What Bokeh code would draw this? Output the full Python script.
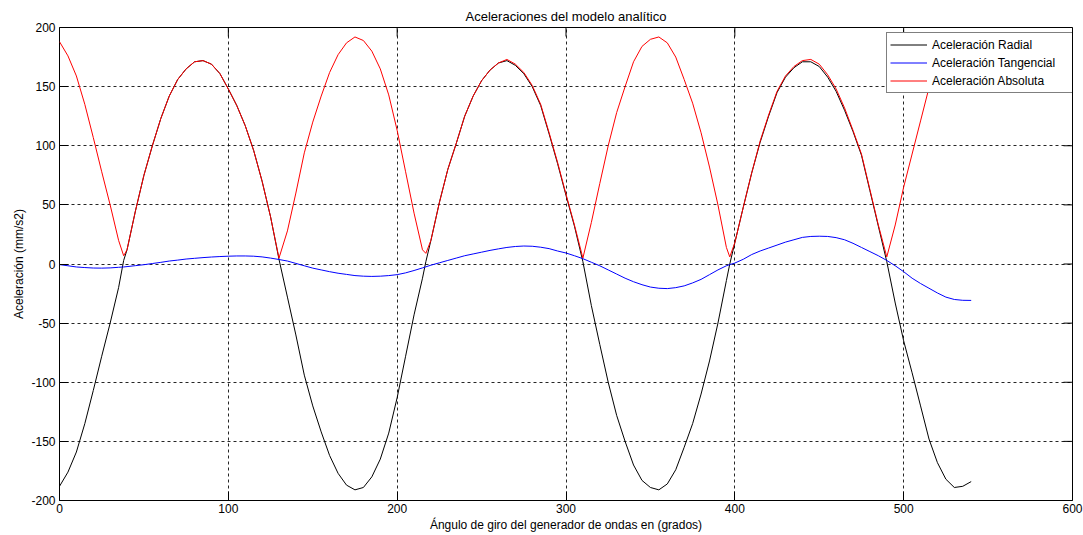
import math
from bokeh.plotting import figure
from bokeh.models import FixedTicker, Legend, LegendItem, Range1d
from bokeh.embed import file_html
from bokeh.resources import INLINE

# ---- data (degrees, mm/s2) ----
angulo = [0, 5, 10, 15, 20, 25, 30, 35, 38, 40, 45, 50, 55, 60, 65, 70, 75, 80, 85, 90,
          95, 100, 105, 110, 115, 120, 125, 130, 135, 140, 145, 150, 155, 160, 165, 170,
          175, 180, 185, 190, 195, 200, 205, 210, 215, 217, 220, 225, 230, 235, 240, 245,
          250, 255, 260, 265, 270, 275, 280, 285, 290, 295, 300, 305, 310, 315, 320, 325,
          330, 335, 340, 345, 350, 355, 360, 365, 370, 375, 380, 385, 390, 395, 397, 400,
          405, 410, 415, 420, 425, 430, 435, 440, 445, 450, 455, 460, 465, 470, 475, 480,
          485, 490, 495, 500, 505, 510, 515, 520, 525, 530, 535, 540]

radial = [-188, -176, -159, -135, -107, -78, -50, -20, 3, 12, 45, 75, 100, 123, 142, 156,
          165, 171, 172, 169, 161, 148, 134, 117, 96, 70, 40, 4, -28, -60, -94, -120, -142,
          -162, -177, -187, -191, -189, -180, -165, -143, -113, -78, -43, -12, 2, 20, 52,
          80, 102, 125, 142, 155, 164, 170, 172, 168, 161, 150, 134, 110, 85, 58, 32, 2,
          -35, -68, -100, -128, -150, -170, -183, -189, -191, -186, -174, -155, -135, -110,
          -82, -50, -14, 0, 18, 48, 77, 103, 125, 145, 158, 166, 171, 171, 167, 158, 146,
          130, 112, 92, 62, 32, 2, -33, -65, -92, -120, -148, -168, -182, -189, -188, -184]

tangencial = [-0.5, -1.5, -2.5, -3.0, -3.4, -3.5, -3.3, -2.8, -2.5, -2.2, -1.4, -0.6, 0.4,
              1.4, 2.5, 3.3, 4.2, 4.8, 5.4, 5.9, 6.3, 6.6, 6.8, 6.8, 6.6, 6.0, 5.0, 3.8,
              2.5, 0.5, -1.5, -3.5, -5.0, -6.5, -7.8, -8.8, -9.8, -10.3, -10.5, -10.3,
              -9.8, -9.0, -7.5, -5.5, -3.3, -2.4, -1.0, 1.0, 3.0, 5.0, 7.0, 8.5, 10.0, 11.5,
              12.8, 14.0, 14.8, 15.2, 15.0, 14.2, 13.0, 11.0, 9.3, 7.0, 4.5, 1.5, -1.5,
              -5.0, -8.5, -12.0, -15.0, -17.5, -19.5, -20.5, -20.8, -20.0, -18.5, -16.0,
              -13.0, -9.0, -5.0, -1.5, -0.5, 0.8, 4.0, 8.0, 11.0, 13.5, 16.0, 18.5, 20.5,
              22.5, 23.3, 23.5, 23.3, 22.3, 20.5, 17.5, 14.0, 10.5, 7.0, 3.0, -1.5, -6.5,
              -12.0, -16.5, -20.5, -24.5, -28.0, -30.0, -30.7, -30.8]

absoluta = [188, 176, 159, 135, 107, 78, 50, 20, 7, 12, 45, 75, 100, 123, 142, 156, 165,
            171, 172, 169, 161, 148, 134, 117, 96, 70, 40, 5, 28, 60, 94, 120, 142, 162,
            177, 187, 192, 189, 180, 165, 143, 113, 78, 43, 12, 9, 20, 52, 80, 102, 125,
            142, 155, 164, 170, 173, 169, 162, 151, 135, 111, 86, 59, 33, 5, 35, 68, 100,
            128, 150, 171, 184, 190, 192, 187, 175, 156, 136, 111, 82, 50, 14, 6, 18, 48,
            77, 104, 126, 146, 159, 167, 172, 173, 169, 160, 148, 132, 113, 93, 63, 33, 6,
            33, 65, 93, 121, 149, 170, 184, 191, 190, 187]

x_ticks = [0, 100, 200, 300, 400, 500, 600]
y_ticks = [-200, -150, -100, -50, 0, 50, 100, 150, 200]

titulo = "Aceleraciones del modelo analítico"
x_label = "Ángulo de giro del generador de ondas en (grados)"
y_label = "Aceleración (mm/s2)"
series_labels = ["Aceleración Radial", "Aceleración Tangencial", "Aceleración Absoluta"]

FONT = "Liberation Sans"
X_MIN, X_MAX = x_ticks[0], x_ticks[-1]
Y_MIN, Y_MAX = y_ticks[0], y_ticks[-1]

W, H = 1083, 535
B_LEFT, B_RIGHT, B_TOP, B_BOTTOM = 59, 11, 27, 35

p = figure(width=W, height=H,
           x_range=Range1d(X_MIN, X_MAX), y_range=Range1d(Y_MIN, Y_MAX),
           output_backend="svg", toolbar_location=None,
           title=titulo,
           min_border_left=B_LEFT, min_border_right=B_RIGHT,
           min_border_top=B_TOP, min_border_bottom=B_BOTTOM)

p.background_fill_color = "white"
p.border_fill_color = "white"
p.outline_line_color = "black"
p.outline_line_width = 1

p.title.align = "center"
p.title.text_font = FONT
p.title.text_font_size = "13px"
p.title.text_font_style = "normal"
p.title.text_color = "black"
p.title.standoff = 7

bottom_axis = p.below[0]
left_axis = p.left[0]
bottom_axis.ticker = FixedTicker(ticks=x_ticks)
left_axis.ticker = FixedTicker(ticks=y_ticks)
bottom_axis.axis_label = x_label
left_axis.axis_label = y_label
# plain hyphen-minus like the reference ("-200" rather than "−200")
left_axis.major_label_overrides = {v: str(v) for v in y_ticks}
bottom_axis.major_label_overrides = {v: str(v) for v in x_ticks}

for ax in [bottom_axis, left_axis]:
    ax.axis_line_color = None
    ax.major_tick_in = 9
    ax.major_tick_out = 0
    ax.minor_tick_in = 0
    ax.minor_tick_out = 0
    ax.major_tick_line_color = "black"
    ax.major_label_text_font = FONT
    ax.major_label_text_font_size = "12px"
    ax.major_label_text_color = "black"
    ax.axis_label_text_font = FONT
    ax.axis_label_text_font_size = "12px"
    ax.axis_label_text_font_style = "normal"
    ax.axis_label_text_color = "black"

bottom_axis.major_label_standoff = 3
bottom_axis.axis_label_standoff = 2
left_axis.major_label_standoff = 4
left_axis.axis_label_standoff = 2

# tick marks on the top and right edges of the box (MATLAB style)
p.ray(x=x_ticks, y=[Y_MAX] * len(x_ticks), length=9, length_units="screen",
      angle=-math.pi / 2, line_color="black", line_width=1)
p.ray(x=[X_MAX] * len(y_ticks), y=y_ticks, length=9, length_units="screen",
      angle=math.pi, line_color="black", line_width=1)

# grid
p.xgrid.ticker = FixedTicker(ticks=x_ticks)
p.ygrid.ticker = FixedTicker(ticks=y_ticks)
for g in [p.xgrid[0], p.ygrid[0]]:
    g.grid_line_color = "black"
    g.grid_line_dash = "3 3"
    g.grid_line_width = 1
    g.grid_line_alpha = 0.85

r1 = p.line(angulo, radial, line_color="#000000", line_width=1)
r2 = p.line(angulo, tangencial, line_color="#0000FF", line_width=1)
r3 = p.line(angulo, absoluta, line_color="#FF0000", line_width=1)

frame_w = W - B_LEFT - B_RIGHT
frame_h = H - B_TOP - B_BOTTOM
pad, gw, gh, stand, lw, sp = 3, 37, 17, 5, 137, 1
legend_h = pad * 2 + 3 * gh + 2 * sp
legend_w = pad + gw + stand + lw + pad
legend = Legend(items=[LegendItem(label=series_labels[0], renderers=[r1]),
                       LegendItem(label=series_labels[1], renderers=[r2]),
                       LegendItem(label=series_labels[2], renderers=[r3])],
                location=(frame_w - 1 - legend_w, frame_h - 7 - legend_h))
legend.label_text_font = FONT
legend.label_text_font_size = "12px"
legend.label_text_color = "black"
legend.glyph_width = gw
legend.glyph_height = gh
legend.label_height = gh
legend.label_width = lw
legend.label_standoff = stand
legend.spacing = sp
legend.padding = pad
legend.margin = 0
legend.border_line_color = "black"
legend.border_line_width = 1
legend.background_fill_color = "white"
legend.background_fill_alpha = 1
p.add_layout(legend)

open("out.html", "w").write(file_html(p, INLINE))
